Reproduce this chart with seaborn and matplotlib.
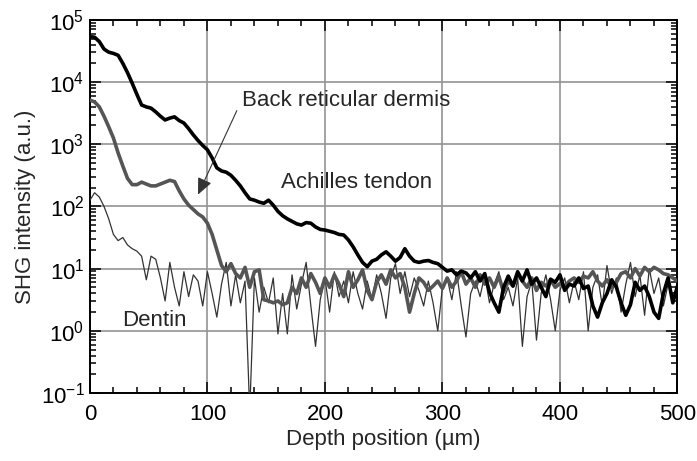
import numpy as np
import pandas as pd
import matplotlib
matplotlib.use("Agg")
import matplotlib.pyplot as plt
from matplotlib.ticker import MultipleLocator, LogLocator, LogFormatterMathtext, NullFormatter
import seaborn as sns

# depth positions (um), one sample every 4 um
depth = np.arange(0, 501, 4)

# log10 of SHG intensity
achilles_log = [4.73, 4.72, 4.65, 4.53, 4.48, 4.46, 4.43, 4.30, 4.15, 3.98, 3.80, 3.63, 3.60, 3.58, 3.52, 3.45,
                3.39, 3.42, 3.44, 3.38, 3.34, 3.25, 3.15, 3.06, 2.98, 2.91, 2.78, 2.62, 2.57, 2.55, 2.50, 2.42,
                2.33, 2.22, 2.12, 2.10, 2.07, 2.05, 2.10, 2.02, 1.92, 1.85, 1.80, 1.76, 1.72, 1.70, 1.74, 1.73,
                1.67, 1.63, 1.62, 1.60, 1.58, 1.55, 1.54, 1.46, 1.35, 1.22, 1.10, 1.03, 1.12, 1.15, 1.22, 1.27,
                1.20, 1.12, 1.18, 1.32, 1.20, 1.12, 1.10, 1.12, 1.13, 1.10, 1.08, 1.02, 0.96, 0.98, 0.90, 0.96,
                0.93, 0.85, 0.95, 0.80, 0.92, 0.62, 0.45, 0.30, 0.70, 0.88, 0.72, 0.95, 0.80, 0.98, 0.75, 0.85,
                0.70, 0.55, 0.83, 0.78, 0.90, 0.65, 0.75, 0.72, 0.85, 0.68, 0.72, 0.40, 0.22, 0.45, 0.60, 0.82,
                0.70, 0.45, 0.25, 0.42, 0.78, 0.65, 0.72, 0.55, 0.30, 0.20, 0.60, 0.85, 0.45, 0.72]

dermis_log = [3.71, 3.68, 3.60, 3.45, 3.28, 3.10, 2.86, 2.65, 2.45, 2.35, 2.35, 2.39, 2.36, 2.33, 2.33, 2.36,
              2.39, 2.42, 2.40, 2.25, 2.12, 2.02, 1.95, 1.88, 1.83, 1.73, 1.55, 1.30, 1.05, 0.95, 1.08, 0.92,
              0.85, 1.02, 0.70, 0.95, 0.98, 0.50, 0.48, 0.45, 0.48, 0.42, 0.45, 0.70, 0.60, 0.85, 0.70, 0.92,
              0.78, 0.60, 0.85, 0.70, 0.90, 0.75, 0.55, 0.95, 0.70, 0.82, 0.98, 0.65, 0.50, 0.78, 0.90, 0.75,
              0.98, 0.85, 0.92, 0.70, 0.30, 0.60, 0.85, 0.78, 0.65, 0.72, 0.80, 0.68, 0.85, 0.70, 0.80, 0.95,
              0.75, 0.85, 0.70, 0.90, 0.75, 0.85, 0.70, 0.88, 0.62, 0.80, 0.72, 0.92, 0.80, 0.70, 0.85, 0.65,
              0.78, 0.72, 0.82, 0.70, 0.76, 0.72, 0.80, 0.85, 0.78, 0.88, 0.85, 0.95, 0.80, 0.72, 0.82, 0.70,
              0.78, 0.92, 0.95, 0.85, 1.00, 0.88, 1.02, 0.95, 1.02, 0.98, 0.92, 0.90, 0.85, 0.80]

dentin_log = [2.10, 2.22, 2.15, 2.00, 1.80, 1.55, 1.45, 1.50, 1.38, 1.32, 1.28, 1.20, 0.82, 1.20, 1.15, 0.85,
              0.48, 1.10, 0.70, 0.40, 0.95, 0.55, 0.90, 0.80, 0.40, 0.95, 0.60, 0.22, 0.75, 1.10, 0.40, 0.90,
              0.45, 0.80, -1.30, 0.85, 0.30, 0.70, 0.45, 0.85, -0.05, 0.60, -0.05, 0.90, 0.35, 0.75, 1.10, 0.40,
              -0.25, 0.50, 0.85, 0.30, 0.95, 0.55, 0.80, 0.45, 0.95, 0.60, 0.35, 0.80, 0.50, 0.90, 0.60, 0.20,
              0.85, 1.08, 0.60, 0.95, 0.55, 0.85, 0.65, 0.40, 0.80, 0.45, 0.00, 0.70, 0.85, 0.50, 0.95, 0.40,
              -0.10, 0.60, 0.80, 0.55, 0.90, 0.45, 0.75, 0.95, 0.50, 0.70, 0.40, 0.85, -0.25, 0.55, 0.80, -0.15,
              0.60, 0.90, 0.50, 0.00, 0.65, 0.85, 0.45, 0.80, 0.50, 0.95, 0.00, 0.70, 0.90, 0.40, 1.05, 0.60,
              0.85, 0.30, 0.75, 1.10, 0.55, 0.90, 0.25, 1.00, 0.60, 0.85, 0.40, 0.75, 0.55, 0.65]

y_ticks = [1e-1, 1e0, 1e1, 1e2, 1e3, 1e4, 1e5]

df = pd.DataFrame({
    "depth": np.concatenate([depth, depth, depth]),
    "shg": 10 ** np.concatenate([dentin_log, dermis_log, achilles_log]),
    "sample": ["Dentin"] * len(depth) + ["Back reticular dermis"] * len(depth) + ["Achilles tendon"] * len(depth),
})

sns.set_style("ticks")
plt.rcParams["font.family"] = ["Liberation Sans", "DejaVu Sans"]
plt.rcParams["mathtext.fontset"] = "custom"
plt.rcParams["mathtext.rm"] = "Liberation Sans"
plt.rcParams["mathtext.it"] = "Liberation Sans"

fs = 16
fig = plt.figure(figsize=(6.97, 4.61), dpi=100)
ax = fig.add_axes([0.129, 0.1475, 0.843, 0.8095])

colours = {"Dentin": "#333333", "Back reticular dermis": "#555555", "Achilles tendon": "#000000"}
widths = {"Dentin": 0.9, "Back reticular dermis": 2.6, "Achilles tendon": 2.6}
for name in ["Dentin", "Back reticular dermis", "Achilles tendon"]:
    sub = df[df["sample"] == name]
    sns.lineplot(data=sub, x="depth", y="shg", color=colours[name], lw=widths[name],
                 estimator=None, sort=False, ax=ax, legend=False, zorder=3)

ax.set_yscale("log")
ax.set_xlim(0, 500)
ax.set_ylim(0.1, 1e5)
ax.xaxis.set_major_locator(MultipleLocator(100))
ax.xaxis.set_minor_locator(MultipleLocator(20))
ax.set_yticks(y_ticks)
ax.yaxis.set_minor_locator(LogLocator(base=10, subs=np.arange(2, 10), numticks=20))
ax.yaxis.set_major_formatter(LogFormatterMathtext())
ax.yaxis.set_minor_formatter(NullFormatter())
ax.set_ylim(0.1, 1e5)
ax.grid(True, which="major", color="#939393", lw=1.2, zorder=1)

for s in ax.spines.values():
    s.set_linewidth(1.4)
    s.set_color("black")
ax.tick_params(which="both", direction="in", top=True, right=True, width=1.1, colors="black")
ax.tick_params(which="major", length=8, labelsize=fs)
ax.tick_params(which="minor", length=4)
ax.tick_params(axis="x", which="major", pad=8)
ax.tick_params(axis="y", which="major", pad=4)

ax.set_xlabel("Depth position (µm)", fontsize=fs, labelpad=3)
ax.set_ylabel("SHG intensity (a.u.)", fontsize=fs, labelpad=3)

ax.annotate("", xy=(91, 10 ** 2.15), xytext=(126, 10 ** 3.58),
            arrowprops=dict(arrowstyle="-|>,head_length=1.0,head_width=0.45", color="#333333", lw=0.8),
            zorder=4)
ax.text(129, 10 ** 3.70, "Back reticular dermis", fontsize=fs, va="center", ha="left")
ax.text(163, 10 ** 2.38, "Achilles tendon", fontsize=fs, va="center", ha="left")
ax.text(27, 10 ** 0.17, "Dentin", fontsize=fs, va="center", ha="left")

fig.savefig("out.png", dpi=100)
